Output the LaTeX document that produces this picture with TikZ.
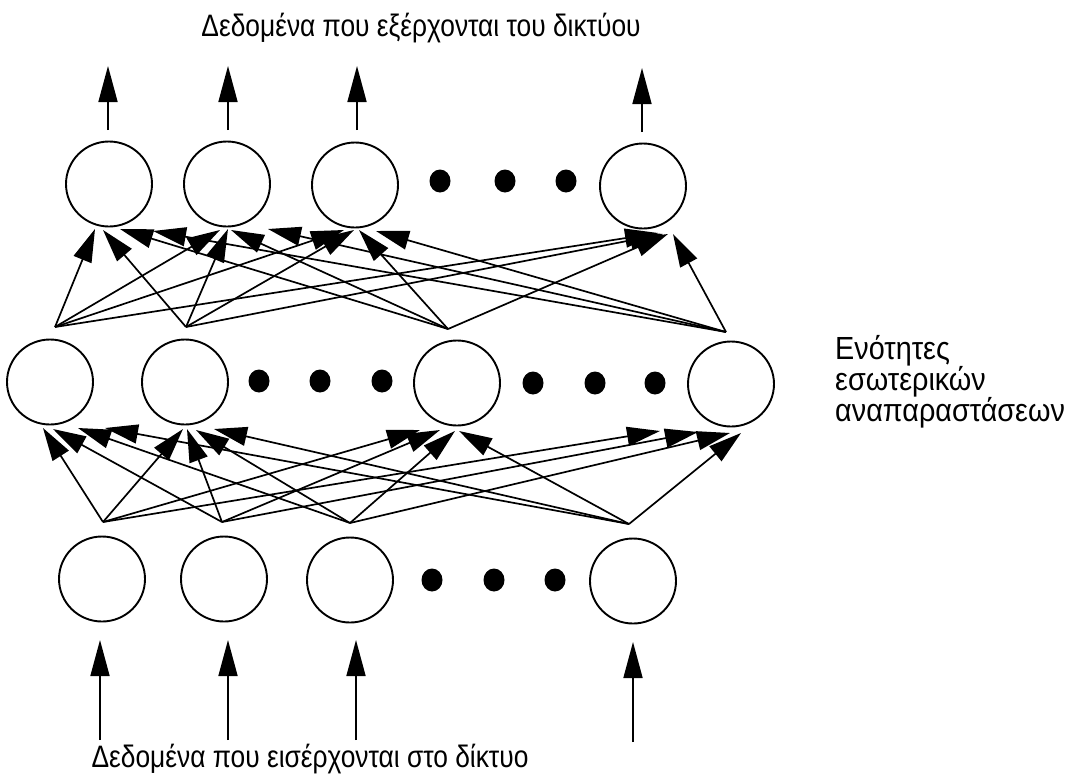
\documentclass[tikz,border=0pt]{standalone}
\usepackage{fontspec}
\setmainfont{Liberation Sans}[FakeStretch=0.85]
\newfontfamily\sidefont{Liberation Sans}[FakeStretch=0.9]
\usetikzlibrary{arrows.meta,shapes.geometric}
\begin{document}
\begin{tikzpicture}[x=1pt,y=-1pt,
  unit/.style={ellipse,draw,line width=1.9pt,minimum width=86pt,minimum height=85pt,inner sep=0pt},
  dotnode/.style={ellipse,fill,minimum width=21pt,minimum height=23pt,inner sep=0pt},
  arr/.style={line width=1.7pt,-{Triangle[length=33pt,width=19pt]}},
  varr/.style={line width=1.7pt,-{Triangle[length=36pt,width=19pt]}},
  lbl/.style={font=\fontsize{31}{31}\selectfont,inner sep=0pt},
  sidelbl/.style={font=\sidefont\fontsize{32}{31}\selectfont,inner sep=0pt,anchor=west,align=left}]
\useasboundingbox (0,0) rectangle (1078,780);
% top layer
\node[unit] (t1) at (109,184) {};
\node[unit] (t2) at (227,184) {};
\node[unit] (t3) at (355,185) {};
\node[unit] (t4) at (643,186) {};
\node[dotnode] (td1) at (440,181) {};
\node[dotnode] (td2) at (505,181) {};
\node[dotnode] (td3) at (566,181) {};
% middle layer
\node[unit] (m1) at (50,382) {};
\node[unit] (m2) at (185,382) {};
\node[unit] (m3) at (457,383) {};
\node[unit] (m4) at (731,384) {};
\node[dotnode] (md1) at (259,381) {};
\node[dotnode] (md2) at (320,381) {};
\node[dotnode] (md3) at (382,381) {};
\node[dotnode] (md4) at (533,383) {};
\node[dotnode] (md5) at (595,383) {};
\node[dotnode] (md6) at (655,383) {};
% bottom layer
\node[unit] (b1) at (102,579) {};
\node[unit] (b2) at (224,579) {};
\node[unit] (b3) at (350,580) {};
\node[unit] (b4) at (633,581) {};
\node[dotnode] (bd1) at (432,580) {};
\node[dotnode] (bd2) at (494,580) {};
\node[dotnode] (bd3) at (555,580) {};
% labels
\node[lbl] (outlbl) at (421,28) {Δεδομένα που εξέρχονται του δικτύου};
\node[lbl] (inlbl) at (310,759) {Δεδομένα που εισέρχονται στο δίκτυο};
\node[sidelbl] (hidlbl) at (835,382) {Ενότητες\\εσωτερικών\\αναπαραστάσεων};
% fan points
\coordinate (b1s) at (103,522);
\coordinate (b2s) at (222,522);
\coordinate (b3s) at (350,523);
\coordinate (b4s) at (629,524);
\coordinate (m1s) at (55,327);
\coordinate (m2s) at (186,327);
\coordinate (m3s) at (448,329);
\coordinate (m4s) at (726,332);
% arrow tips below middle units
\coordinate (m1b1) at (43,428);  \coordinate (m1b2) at (53,429);  \coordinate (m1b3) at (78,428);  \coordinate (m1b4) at (105,428);
\coordinate (m2b1) at (183,429); \coordinate (m2b2) at (187,429); \coordinate (m2b3) at (196,430); \coordinate (m2b4) at (214,429);
\coordinate (m3b1) at (420,430); \coordinate (m3b2) at (440,430); \coordinate (m3b3) at (455,431); \coordinate (m3b4) at (459,431);
\coordinate (m4b1) at (660,431); \coordinate (m4b2) at (698,432); \coordinate (m4b3) at (730,433); \coordinate (m4b4) at (741,433);
% arrow tips below top units
\coordinate (t1m1) at (95,229);  \coordinate (t1m2) at (103,230); \coordinate (t1m3) at (120,229); \coordinate (t1m4) at (153,231);
\coordinate (t2m1) at (220,230); \coordinate (t2m2) at (228,229); \coordinate (t2m3) at (231,230); \coordinate (t2m4) at (268,229);
\coordinate (t3m1) at (344,230); \coordinate (t3m2) at (354,230); \coordinate (t3m3) at (359,230); \coordinate (t3m4) at (376,231);
\coordinate (t4m1) at (658,233); \coordinate (t4m2) at (663,234); \coordinate (t4m3) at (668,234); \coordinate (t4m4) at (673,234);
\foreach \i in {1,...,4}{
  \foreach \j in {1,...,4}{
    \draw[arr] (b\j s) -- (m\i b\j);
    \draw[arr] (m\j s) -- (t\i m\j);
  }
}
% input arrows
\coordinate (in1) at (100,740); \coordinate (in1t) at (100,640);
\coordinate (in2) at (228,740); \coordinate (in2t) at (228,640);
\coordinate (in3) at (356,740); \coordinate (in3t) at (356,640);
\coordinate (in4) at (633,742); \coordinate (in4t) at (633,642);
\foreach \k in {1,...,4}{ \draw[varr] (in\k) -- (in\k t); }
% output arrows
\coordinate (o1) at (108,130); \coordinate (o1t) at (108,66);
\coordinate (o2) at (228,130); \coordinate (o2t) at (228,66);
\coordinate (o3) at (357,130); \coordinate (o3t) at (357,66);
\coordinate (o4) at (642,132); \coordinate (o4t) at (642,68);
\foreach \k in {1,...,4}{ \draw[varr] (o\k) -- (o\k t); }
\end{tikzpicture}
\end{document}
